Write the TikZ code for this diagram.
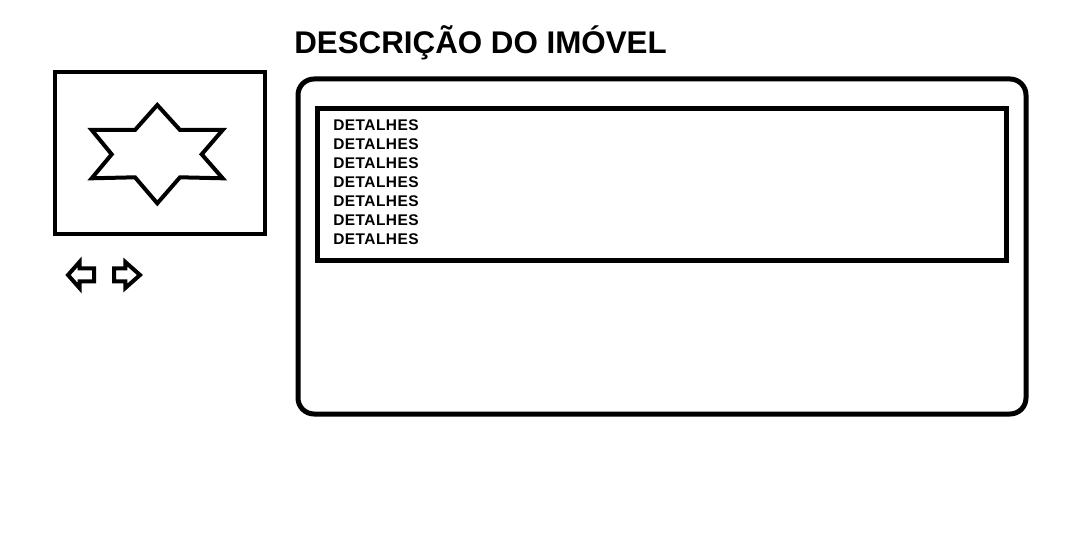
\documentclass[tikz,border=0pt]{standalone}
\usepackage{fontspec}
\setmainfont{Liberation Sans}
\begin{document}
\begin{tikzpicture}[x=0.75pt,y=-0.75pt,
  box/.style={draw=black,line width=3pt,inner sep=0pt,outer sep=0pt,fill=none},
  shp/.style={draw=black,line width=3pt,line join=miter},
  det/.style={anchor=base west,inner sep=0pt,font=\fontsize{11.6pt}{14.25pt}\bfseries}]
\useasboundingbox[fill=white] (0,0) rectangle (1076,556);
% title
\node[anchor=base west,inner sep=0pt,font=\fontsize{23.5pt}{28pt}\bfseries] (title) at (294,53.5) {DESCRIÇÃO DO IMÓVEL};
% image box
\node[box,minimum width=157.5pt,minimum height=121.5pt] (img) at (160.3,153) {};
\draw[shp] (157.3,105) -- (180,130) -- (222.7,130) -- (201.7,154.3) -- (222.7,178.3) -- (180,177.3)
  -- (157.3,203.3) -- (135,177.3) -- (91.7,178.3) -- (111.7,154.3) -- (91.7,130) -- (135,130) -- cycle;
% arrows
\draw[shp] (68,275) -- (79.5,262) -- (79.5,268.5) -- (94,268.5) -- (94,281.5) -- (79.5,281.5) -- (79.5,288) -- cycle;
\draw[shp] (140,275) -- (125.3,262) -- (125.3,268.5) -- (114,268.5) -- (114,281.5) -- (125.3,281.5) -- (125.3,288) -- cycle;
% panel
\node[box,line width=3.75pt,rounded corners=12pt,minimum width=546pt,minimum height=251.25pt] (panel) at (662,246.5) {};
\node[box,line width=3.75pt,minimum width=517pt,minimum height=114pt] (details) at (661.75,185) {};
\foreach \i in {0,...,6}{
  \node[det] (d\i) at (333,{131+19*\i}) {\addfontfeatures{LetterSpace=3}DETALHES};
}
\end{tikzpicture}
\end{document}
